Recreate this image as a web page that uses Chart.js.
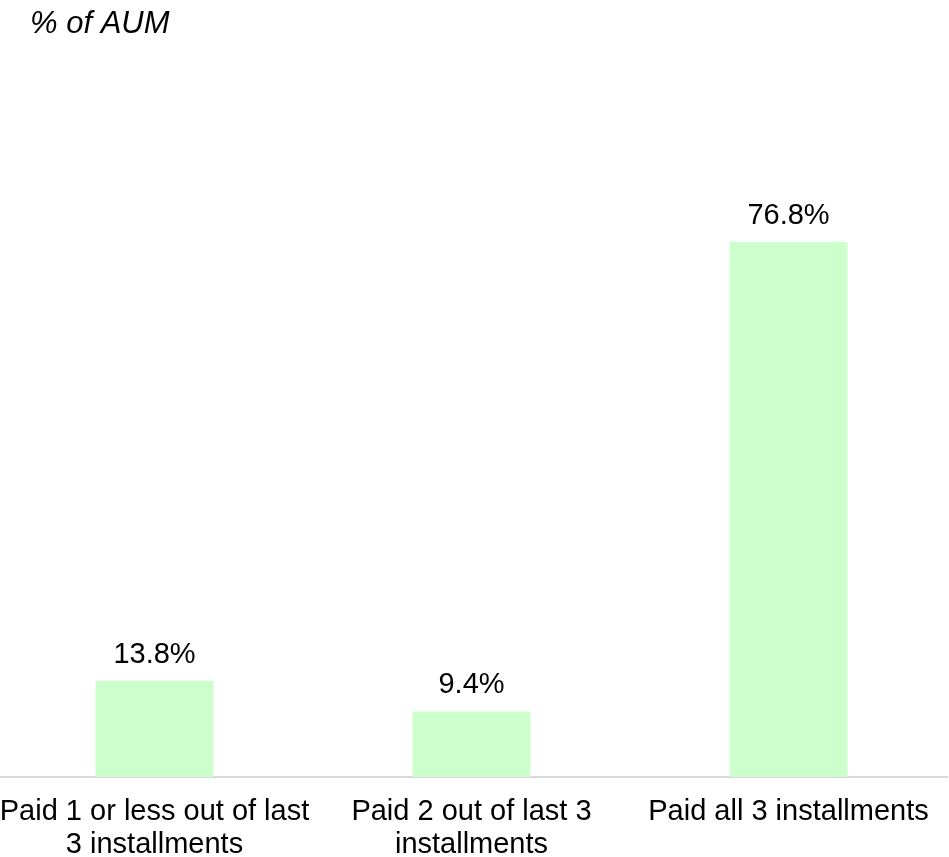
<!DOCTYPE html>
<html>
<head>
<meta charset="utf-8">
<script src="https://cdn.jsdelivr.net/npm/chart.js@4.4.1/dist/chart.umd.min.js"></script>
<style>
  html, body { margin: 0; padding: 0; background: #ffffff; overflow: hidden; }
  #wrap { width: 949px; height: 857px; position: relative; overflow: hidden; }
  #c { position: absolute; left: -4px; top: 0; }
</style>
</head>
<body>
<div id="wrap"><canvas id="c" width="953" height="857"></canvas></div>
<script>
const categories = [
  ["Paid 1 or less out of last", "3 installments"],
  ["Paid 2 out of last 3", "installments"],
  ["Paid all 3 installments"]
];
const shareOfAUM = [13.8, 9.4, 76.8];
const valueLabels = ["13.8%", "9.4%", "76.8%"];
const chartTitle = "% of AUM";

const FONT = "'Liberation Sans', Arial, Helvetica, sans-serif";

const titlePlugin = {
  id: 'leftTitle',
  afterDraw(chart) {
    const ctx = chart.ctx;
    ctx.save();
    ctx.font = "italic 31px " + FONT;
    ctx.fillStyle = "#000000";
    ctx.textAlign = "left";
    ctx.textBaseline = "alphabetic";
    ctx.fillText(chartTitle, 34, 33);
    ctx.restore();
  }
};

const valueLabelPlugin = {
  id: 'valueLabels',
  afterDatasetsDraw(chart) {
    const ctx = chart.ctx;
    const meta = chart.getDatasetMeta(0);
    ctx.save();
    ctx.font = "29px " + FONT;
    ctx.fillStyle = "#000000";
    ctx.textAlign = "center";
    ctx.textBaseline = "alphabetic";
    meta.data.forEach((bar, i) => {
      ctx.fillText(valueLabels[i], bar.x, bar.y - 18);
    });
    ctx.restore();
  }
};

new Chart(document.getElementById('c'), {
  type: 'bar',
  data: {
    labels: categories,
    datasets: [{
      data: shareOfAUM,
      backgroundColor: '#ccffcc',
      borderWidth: 0,
      barPercentage: 0.372,
      categoryPercentage: 1.0
    }]
  },
  options: {
    responsive: false,
    animation: false,
    devicePixelRatio: 1,
    layout: { padding: { left: 0, right: 2, top: 80, bottom: 0 } },
    plugins: {
      legend: { display: false },
      title: { display: false },
      tooltip: { enabled: false }
    },
    scales: {
      x: {
        grid: { display: false, drawTicks: false },
        border: { display: true, color: '#d9d9d9', width: 2 },
        ticks: {
          color: '#000000',
          font: { family: FONT, size: 29, lineHeight: 1.15 },
          padding: 18,
          maxRotation: 0,
          autoSkip: false
        },
        afterFit(scale) {
          scale.height = 80;
          scale.paddingLeft = 0;
          scale.paddingRight = 0;
        }
      },
      y: {
        display: false,
        min: 0,
        max: 100
      }
    }
  },
  plugins: [titlePlugin, valueLabelPlugin]
});
</script>
</body>
</html>
